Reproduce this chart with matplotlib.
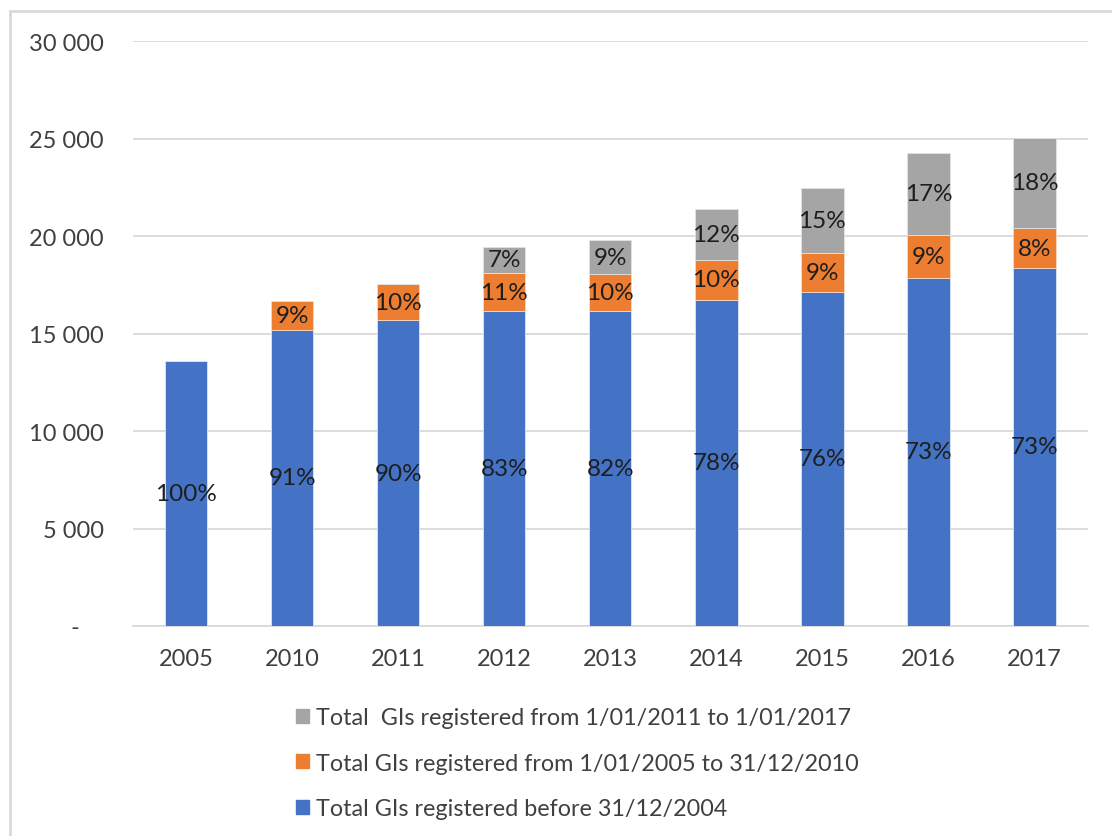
import matplotlib.pyplot as plt
import matplotlib.ticker as ticker
import matplotlib.patches as mpatches
import numpy as np

plt.rcParams['font.family'] = ['Lato', 'DejaVu Sans']

years = ['2005', '2010', '2011', '2012', '2013', '2014', '2015', '2016', '2017']
before_2005 = [13590, 15180, 15690, 16150, 16150, 16720, 17130, 17850, 18360]
from_2005 = [0, 1490, 1850, 1950, 1900, 2050, 2000, 2200, 2050]
from_2011 = [0, 0, 0, 1340, 1740, 2610, 3330, 4210, 4620]
pct_before = ['100%', '91%', '90%', '83%', '82%', '78%', '76%', '73%', '73%']
pct_2005 = ['', '9%', '10%', '11%', '10%', '10%', '9%', '9%', '8%']
pct_2011 = ['', '', '', '7%', '9%', '12%', '15%', '17%', '18%']
series_names = ['Total GIs registered before 31/12/2004',
                'Total GIs registered from 1/01/2005 to 31/12/2010',
                'Total  GIs registered from 1/01/2011 to 1/01/2017']
colors = ['#4472C4', '#ED7D31', '#A5A5A5']

fig = plt.figure(figsize=(11.12, 8.37), dpi=100)
ax = fig.add_axes([0.1196, 0.2509, 0.8584, 0.6989])

x = np.arange(len(years))
w = 0.4
b0 = np.array(before_2005)
b1 = np.array(from_2005)
b2 = np.array(from_2011)
ax.bar(x, b0, w, color=colors[0], edgecolor='#DCE6F5', linewidth=0.6, zorder=3)
ax.bar(x, b1, w, bottom=b0, color=colors[1], edgecolor='#F8D9C4', linewidth=0.6, zorder=3)
ax.bar(x, b2, w, bottom=b0 + b1, color=colors[2], edgecolor='#E2E2E2', linewidth=0.6, zorder=3)

txt = dict(ha='center', va='center', fontsize=17.5, color='#1E1E1E', zorder=4)
for i in range(len(years)):
    ax.text(x[i], b0[i] / 2, pct_before[i], **txt)
    if pct_2005[i]:
        ax.text(x[i], b0[i] + b1[i] / 2, pct_2005[i], **txt)
    if pct_2011[i]:
        ax.text(x[i], b0[i] + b1[i] + b2[i] / 2, pct_2011[i], **txt)

def yfmt(v, pos):
    if v == 0:
        return '-    '
    return '{:,.0f}'.format(v).replace(',', ' ')

ax.set_ylim(0, 30000)
ax.set_xlim(-0.5, len(years) - 0.5)
ax.yaxis.set_major_locator(ticker.MultipleLocator(5000))
ax.yaxis.set_major_formatter(ticker.FuncFormatter(yfmt))
ax.set_xticks(x)
ax.set_xticklabels(years)
ax.tick_params(axis='both', length=0, labelsize=17, labelcolor='#404040')
ax.tick_params(axis='y', pad=21)
ax.tick_params(axis='x', pad=16)
ax.grid(axis='y', color='#D9D9D9', linewidth=1.3, zorder=0)
for s in ['top', 'right', 'left']:
    ax.spines[s].set_visible(False)
ax.spines['bottom'].set_color('#D9D9D9')
ax.spines['bottom'].set_linewidth(1.3)

handles = [mpatches.Patch(color=colors[2]), mpatches.Patch(color=colors[1]), mpatches.Patch(color=colors[0])]
fig.legend(handles, [series_names[2], series_names[1], series_names[0]],
           loc='upper left', bbox_to_anchor=(0.256, 0.168), frameon=False,
           fontsize=16.8, handlelength=0.55, handleheight=0.55, handletextpad=0.3,
           labelspacing=1.05, borderpad=0, labelcolor='#404040')

border = mpatches.Rectangle((10 / 1112, -0.05), 1.2, (837 - 12) / 837 + 0.05,
                            transform=fig.transFigure, fill=False,
                            edgecolor='#D9D9D9', linewidth=2)
fig.patches.append(border)

fig.savefig('out.png', dpi=100)
